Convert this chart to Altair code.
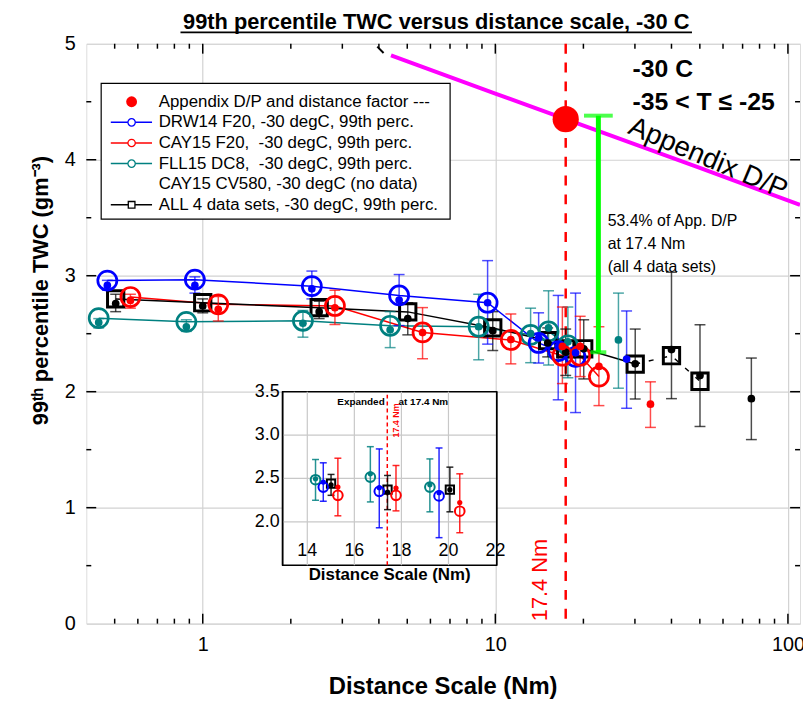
import altair as alt
import pandas as pd

FONT = "Liberation Sans"

# ---------------- data ----------------
series_names = ["DRW14", "CAY15", "FLL15", "ALL"]
series_colors = ["#0000FF", "#FF0000", "#008080", "#000000"]

blue_x = [0.472, 0.94, 2.36, 4.69, 9.41, 14.06, 16.4, 18.8]
blue_circ = [2.958, 2.966, 2.91, 2.83, 2.767, 2.42, 2.35, 2.30]
blue_dot = [2.916, 2.916, 2.887, 2.79, 2.767, 2.463, 2.389, 2.335]
blue_lo = [2.875, 2.85, 2.80, 2.57, 2.41, 2.247, 1.93, 1.82]
blue_hi = [2.96, 2.99, 3.04, 3.01, 3.13, 2.68, 2.83, 2.85]

red_x = [0.566, 1.13, 2.83, 5.64, 11.3, 16.95, 19.5, 22.6]
red_circ = [2.816, 2.753, 2.739, 2.511, 2.446, 2.31, 2.31, 2.13]
red_dot = [2.787, 2.71, 2.724, 2.51, 2.45, 2.39, 2.39, 2.218]
red_lo = [2.72, 2.61, 2.58, 2.284, 2.24, 2.07, 2.13, 1.88]
red_hi = [2.84, 2.82, 2.875, 2.725, 2.67, 2.73, 2.65, 2.56]

teal_x = [0.441, 0.879, 2.20, 4.37, 8.77, 13.2, 15.2, 17.7]
teal_circ = [2.634, 2.602, 2.611, 2.568, 2.56, 2.49, 2.52, 2.40]
teal_dot = [2.597, 2.56, 2.59, 2.534, 2.56, 2.50, 2.55, 2.43]
teal_lo = [2.55, 2.52, 2.47, 2.38, 2.275, 2.25, 2.23, 2.12]
teal_hi = [2.63, 2.62, 2.70, 2.69, 2.84, 2.72, 2.87, 2.73]

all_x = [0.504, 1.0, 2.50, 5.02, 9.8, 15.1, 17.4, 20.05, 30.07, 40.0, 50.06]
all_sq = [2.80, 2.767, 2.724, 2.688, 2.55, 2.44, 2.37, 2.37, 2.238, 2.31, 2.09]
all_dot = [2.76, 2.739, 2.69, 2.63, 2.526, 2.42, 2.34, 2.37, 2.24, 2.363, 2.139]
all_lo = [2.69, 2.68, 2.63, 2.49, 2.355, 2.30, 2.14, 2.11, 1.937, 1.94, 1.70]
all_hi = [2.84, 2.80, 2.78, 2.767, 2.69, 2.55, 2.54, 2.62, 2.54, 3.03, 2.577]

extra_series = ["FLL15", "DRW14", "CAY15", "ALL"]
extra_x = [26.35, 28.1, 33.9, 75.0]
extra_y = [2.446, 2.281, 1.892, 1.94]
extra_lo = [2.03, 1.857, 1.692, 1.587]
extra_hi = [2.85, 2.696, 2.085, 2.29]

# Appendix D/P curve
app_x = [4.4, 10.0, 17.4, 50.0, 110.0]
app_y = [4.90, 4.57, 4.35, 3.93, 3.61]
app_point_x = [17.4]
app_point_y = [4.35]
small_black_x = [3.95, 4.15]
small_black_y = [4.975, 4.92]

green_x = [22.5]
green_lo = [2.34]
green_hi = [4.38]

# inset
in_teal_x = [14.35, 16.68, 19.21]
in_teal_circ = [2.485, 2.515, 2.40]
in_teal_dot = [2.496, 2.553, 2.427]
in_teal_lo = [2.248, 2.229, 2.115]
in_teal_hi = [2.718, 2.866, 2.725]

in_blue_x = [14.68, 17.06, 19.6]
in_blue_circ = [2.40, 2.351, 2.298]
in_blue_dot = [2.458, 2.393, 2.336]
in_blue_lo = [2.237, 1.931, 1.817]
in_blue_hi = [2.68, 2.84, 2.851]

in_all_x = [15.01, 17.41, 20.06]
in_all_sq = [2.439, 2.37, 2.37]
in_all_dot = [2.427, 2.343, 2.37]
in_all_lo = [2.305, 2.14, 2.115]
in_all_hi = [2.546, 2.534, 2.63]

in_red_x = [15.3, 17.77, 20.48]
in_red_circ = [2.305, 2.305, 2.122]
in_red_dot = [2.40, 2.389, 2.221]
in_red_lo = [2.069, 2.126, 1.874]
in_red_hi = [2.733, 2.649, 2.553]

x_major = [1, 10, 100]
x_minor = [0.5, 0.6, 0.7, 0.8, 0.9, 2, 3, 4, 5, 6, 7, 8, 9, 20, 30, 40, 50, 60, 70, 80, 90]
y_major = [1, 2, 3, 4]
y_minor = [0.5, 1.5, 2.5, 3.5, 4.5]

in_x_ticks = [14, 16, 18, 20, 22]
in_x_labels = ["14", "16", "18", "20", "22"]
in_y_ticks = [2.0, 2.5, 3.0, 3.5]
in_y_labels = ["2.0", "2.5", "3.0", "3.5"]
in_x_grid = [14, 16, 18, 20]
in_y_grid = [2.0, 2.5, 3.0]

legend_labels = [
    "Appendix D/P and distance factor ---",
    "DRW14 F20, -30 degC, 99th perc.",
    "CAY15 F20,\u00a0 -30 degC, 99th perc.",
    "FLL15 DC8,\u00a0 -30 degC, 99th perc.",
    "CAY15 CV580, -30 degC (no data)",
    "ALL 4 data sets, -30 degC, 99th perc.",
]

# ---------------- tables ----------------
def sdf(name, xs, yc, yd, lo, hi):
    return pd.DataFrame({"series": name, "x": xs, "yc": yc, "yd": yd, "lo": lo, "hi": hi})

main_df = pd.concat([
    sdf("ALL", all_x, all_sq, all_dot, all_lo, all_hi),
    sdf("FLL15", teal_x, teal_circ, teal_dot, teal_lo, teal_hi),
    sdf("DRW14", blue_x, blue_circ, blue_dot, blue_lo, blue_hi),
    sdf("CAY15", red_x, red_circ, red_dot, red_lo, red_hi),
], ignore_index=True)
circ_df = main_df[main_df.series != "ALL"]
sq_df = main_df[main_df.series == "ALL"]
all_solid = sq_df.iloc[:9]
all_dash = sq_df.iloc[8:]
col_lines = main_df[main_df.series != "ALL"]

extra_df = pd.DataFrame({"series": extra_series, "x": extra_x, "yd": extra_y,
                         "lo": extra_lo, "hi": extra_hi})
bars_df = pd.concat([main_df[["series", "x", "yd", "lo", "hi"]], extra_df], ignore_index=True)

in_df = pd.concat([
    sdf("ALL", in_all_x, in_all_sq, in_all_dot, in_all_lo, in_all_hi),
    sdf("FLL15", in_teal_x, in_teal_circ, in_teal_dot, in_teal_lo, in_teal_hi),
    sdf("DRW14", in_blue_x, in_blue_circ, in_blue_dot, in_blue_lo, in_blue_hi),
    sdf("CAY15", in_red_x, in_red_circ, in_red_dot, in_red_lo, in_red_hi),
], ignore_index=True)

# ---------------- encodings ----------------
W, H = 720, 585
xscale = alt.Scale(type="log", domain=[0.4, 110], nice=False)
yscale = alt.Scale(domain=[0, 5], nice=False, zero=False)
xaxis = alt.Axis(values=x_major, format="~g", grid=True, ticks=False, domain=False,
                 labelFontSize=20, labelFont=FONT, labelPadding=11, labelColor="black",
                 gridColor="#d2d2d2", gridWidth=1.2, title=None, labelFlush=False)
yaxis = alt.Axis(values=[0, 1, 2, 3, 4, 5], format="d", grid=True, ticks=False, domain=False,
                 labelFontSize=20, labelFont=FONT, labelPadding=11, labelColor="black",
                 gridColor="#d2d2d2", gridWidth=1.2, title=None)


def X(f):
    return alt.X(f, type="quantitative", scale=xscale, axis=xaxis, title=None)


def Y(f):
    return alt.Y(f, type="quantitative", scale=yscale, axis=yaxis, title=None)


cscale = alt.Scale(domain=series_names, range=series_colors)
COL = alt.Color("series:N", scale=cscale, legend=None)

ixs = alt.Scale(domain=[12.95, 22.05], range=[198, 414], nice=False, zero=False)
iys = alt.Scale(domain=[1.5, 3.5], range=[526, 351], nice=False, zero=False)


def IX(f):
    return alt.X(f, type="quantitative", scale=ixs, axis=None, title=None)


def IY(f):
    return alt.Y(f, type="quantitative", scale=iys, axis=None, title=None)


def label(txt, x, y, size, bold=False, color="black", angle=0, align="left", baseline="middle"):
    mk = dict(align=align, baseline=baseline, fontSize=size,
              fontWeight="bold" if bold else "normal", color=color, font=FONT)
    if angle:
        mk["angle"] = angle
    return alt.Chart(pd.DataFrame({"t": [txt]})).mark_text(**mk).encode(
        x=alt.value(x), y=alt.value(y), text="t:N")


# ---------------- main layers ----------------
layers = []
app_df = pd.DataFrame({"x": app_x, "y": app_y})
layers.append(alt.Chart(app_df).mark_line(color="#FF00FF", strokeWidth=4, clip=True).encode(
    x=X("x"), y=Y("y")))
layers.append(alt.Chart(pd.DataFrame({"x": small_black_x, "y": small_black_y})).mark_line(
    color="black", strokeWidth=2).encode(x=X("x"), y=Y("y")))
layers.append(alt.Chart(pd.DataFrame({"x": [17.4]})).mark_rule(
    color="#FF0000", strokeWidth=2.5, strokeDash=[10, 9]).encode(x=X("x")))

layers.append(alt.Chart(col_lines).mark_line(strokeWidth=1.5).encode(
    x=X("x"), y=Y("yc"), color=COL, detail="series:N"))
layers.append(alt.Chart(all_solid).mark_line(strokeWidth=1.5, color="black").encode(
    x=X("x"), y=Y("yc")))
layers.append(alt.Chart(all_dash).mark_line(strokeWidth=1.5, color="black", strokeDash=[5, 9]).encode(
    x=X("x"), y=Y("yc")))

layers.append(alt.Chart(bars_df).mark_rule(strokeWidth=1.5, opacity=0.7).encode(
    x=X("x"), y=Y("lo"), y2="hi:Q", color=COL))
layers.append(alt.Chart(bars_df).mark_tick(orient="horizontal", size=11, thickness=1.5, opacity=0.7).encode(
    x=X("x"), y=Y("lo"), color=COL))
layers.append(alt.Chart(bars_df).mark_tick(orient="horizontal", size=11, thickness=1.5, opacity=0.7).encode(
    x=X("x"), y=Y("hi"), color=COL))

layers.append(alt.Chart(sq_df).mark_point(shape="square", filled=False, size=270, strokeWidth=3,
                                          color="black", opacity=1).encode(x=X("x"), y=Y("yc")))
layers.append(alt.Chart(circ_df).mark_point(shape="circle", filled=False, size=370, strokeWidth=2.7,
                                            opacity=1).encode(x=X("x"), y=Y("yc"), color=COL))
layers.append(alt.Chart(bars_df).mark_point(shape="circle", filled=True, size=60, opacity=1).encode(
    x=X("x"), y=Y("yd"), color=COL))

layers.append(alt.Chart(pd.DataFrame({"x": app_point_x, "y": app_point_y})).mark_point(
    shape="circle", filled=True, size=700, color="#FF0000", opacity=1).encode(x=X("x"), y=Y("y")))

g_df = pd.DataFrame({"x": green_x, "lo": green_lo, "hi": green_hi})
layers.append(alt.Chart(g_df).mark_rule(color="#00FF00", strokeWidth=5).encode(
    x=X("x"), y=Y("lo"), y2="hi:Q"))
layers.append(alt.Chart(g_df).mark_tick(orient="horizontal", size=29, thickness=4, color="#00FF00").encode(
    x=X("x"), y=Y("hi")))
layers.append(alt.Chart(g_df).mark_tick(orient="horizontal", size=16, thickness=4, color="#00FF00").encode(
    x=X("x"), y=Y("lo")))

# ticks (inward)
def xticks(vals, y0, y1):
    return alt.Chart(pd.DataFrame({"v": vals})).mark_rule(color="black", strokeWidth=1.5).encode(
        x=X("v"), y=alt.value(y0), y2=alt.value(y1))


def yticks(vals, x0, x1):
    return alt.Chart(pd.DataFrame({"v": vals})).mark_rule(color="black", strokeWidth=1.5).encode(
        y=Y("v"), x=alt.value(x0), x2=alt.value(x1))


layers += [xticks(x_major, H, H - 10), xticks(x_minor, H, H - 5),
           xticks(x_major, 0, 10), xticks(x_minor, 0, 5),
           yticks(y_major, 0, 10), yticks(y_minor, 0, 5),
           yticks(y_major, W, W - 10), yticks(y_minor, W, W - 5)]

# annotations
layers += [
    label("99th percentile TWC versus distance scale, -30 C", 353, -15, 22, bold=True,
          align="center", baseline="alphabetic"),
    alt.Chart(pd.DataFrame({"a": [0]})).mark_rule(color="black", strokeWidth=1.8).encode(
        x=alt.value(95), x2=alt.value(611), y=alt.value(-11.5)),
    label("99ᵗʰ percentile TWC (gm⁻³)", -46, 249, 22, bold=True, angle=270, align="center"),
    label("Distance Scale (Nm)", 360, 649, 24, bold=True, align="center"),
    label("-30 C", 551, 26, 25, bold=True),
    label("-35 < T ≤ -25", 551, 59, 25, bold=True),
    label("Appendix D/P", 627, 116, 28, angle=23, align="center"),
    label("53.4% of App. D/P", 526, 179, 16),
    label("at 17.4 Nm", 526, 202, 16),
    label("(all 4 data sets)", 526, 225, 16),
    label("17.4 Nm", 458, 541, 22, color="#FF0000", angle=270, align="center"),
]

# legend
layers.append(alt.Chart(pd.DataFrame({"a": [0]})).mark_rect(
    fill="white", stroke="black", strokeWidth=1.2).encode(
    x=alt.value(15), x2=alt.value(367), y=alt.value(40), y2=alt.value(177)))
row_y = [58.5 + 20.8 * i for i in range(6)]
for i, txt in enumerate(legend_labels):
    layers.append(label(txt, 73, row_y[i], 17))
layers.append(alt.Chart(pd.DataFrame({"a": [0]})).mark_point(
    shape="circle", filled=True, size=120, color="#FF0000", opacity=1).encode(
    x=alt.value(45.7), y=alt.value(row_y[0])))
for i, c in [(1, "#0000FF"), (2, "#FF0000"), (3, "#008080"), (5, "#000000")]:
    layers.append(alt.Chart(pd.DataFrame({"a": [0]})).mark_rule(color=c, strokeWidth=1.5).encode(
        x=alt.value(24.7), x2=alt.value(66.3), y=alt.value(row_y[i])))
    layers.append(alt.Chart(pd.DataFrame({"a": [0]})).mark_point(
        shape="square" if i == 5 else "circle", filled=True, fill="white", stroke=c,
        size=45 if i == 5 else 55, strokeWidth=1.3, opacity=1).encode(
        x=alt.value(45.7), y=alt.value(row_y[i])))

main = alt.layer(*layers)

# ---------------- inset ----------------
il = []
il.append(alt.Chart(pd.DataFrame({"x0": [12.95], "x1": [22.05], "y0": [1.5], "y1": [3.5]})).mark_rect(
    fill="white", stroke="black", strokeWidth=1.5).encode(
    x=IX("x0"), x2="x1:Q", y=IY("y0"), y2="y1:Q"))
il.append(alt.Chart(pd.DataFrame({"x": in_x_grid, "y0": 1.5, "y1": 3.5})).mark_rule(
    color="#c8c8c8", strokeWidth=1.2).encode(x=IX("x"), y=IY("y0"), y2="y1:Q"))
il.append(alt.Chart(pd.DataFrame({"y": in_y_grid, "x0": 12.95, "x1": 22.05})).mark_rule(
    color="#c8c8c8", strokeWidth=1.2).encode(y=IY("y"), x=IX("x0"), x2="x1:Q"))
il.append(alt.Chart(pd.DataFrame({"x": [17.4], "y0": [1.5], "y1": [3.5]})).mark_rule(
    color="#FF0000", strokeWidth=1.5, strokeDash=[4, 3]).encode(x=IX("x"), y=IY("y0"), y2="y1:Q"))
il.append(alt.Chart(pd.DataFrame({"x": [12.95, 22.05]})).mark_rule(color="black", strokeWidth=1.5).encode(
    x=IX("x"), y=alt.value(351), y2=alt.value(526)))
il.append(alt.Chart(in_df).mark_rule(strokeWidth=1.5, opacity=0.85).encode(
    x=IX("x"), y=IY("lo"), y2="hi:Q", color=COL))
il.append(alt.Chart(in_df).mark_tick(orient="horizontal", size=7, thickness=1.5, opacity=0.85).encode(
    x=IX("x"), y=IY("lo"), color=COL))
il.append(alt.Chart(in_df).mark_tick(orient="horizontal", size=7, thickness=1.5, opacity=0.85).encode(
    x=IX("x"), y=IY("hi"), color=COL))
il.append(alt.Chart(in_df[in_df.series == "ALL"]).mark_point(
    shape="square", filled=False, size=70, strokeWidth=2, color="black", opacity=1).encode(
    x=IX("x"), y=IY("yc")))
il.append(alt.Chart(in_df[in_df.series != "ALL"]).mark_point(
    shape="circle", filled=False, size=95, strokeWidth=2, opacity=1).encode(
    x=IX("x"), y=IY("yc"), color=COL))
il.append(alt.Chart(in_df).mark_point(shape="circle", filled=True, size=28, opacity=1).encode(
    x=IX("x"), y=IY("yd"), color=COL))
il.append(alt.Chart(pd.DataFrame({"x": in_x_ticks, "t": in_x_labels, "y": 1.665})).mark_text(
    fontSize=18, font=FONT, align="center", baseline="middle", color="black").encode(
    x=IX("x"), y=IY("y"), text="t:N"))
il.append(alt.Chart(pd.DataFrame({"y": in_y_ticks, "t": in_y_labels})).mark_text(
    fontSize=18, font=FONT, align="right", baseline="middle", color="black").encode(
    x=alt.value(195), y=IY("y"), text="t:N"))
il += [
    label("Expanded", 301, 361, 10, bold=True, align="right"),
    label("at 17.4 Nm", 315, 361, 10, bold=True),
    label("17.4 Nm", 312, 380, 9, bold=True, color="#FF0000", angle=270, align="center"),
    label("Distance Scale (Nm)", 306, 536, 17, bold=True, align="center"),
]
inset = alt.layer(*il)

chart = alt.layer(main, inset).resolve_scale(x="independent", y="independent").properties(
    width=W, height=H,
    autosize=alt.AutoSizeParams(type="none"),
    padding={"left": 79, "top": 33, "right": 3, "bottom": 78},
).configure_view(stroke="black", strokeWidth=2).configure(background="white")

chart.save("out.html", embed_options={"renderer": "svg", "actions": False})
